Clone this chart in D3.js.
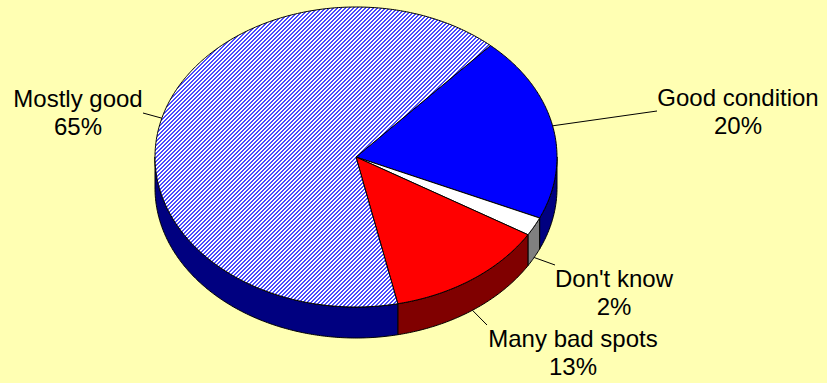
<!DOCTYPE html>
<html>
<head>
<meta charset="utf-8">
<script src="https://cdn.jsdelivr.net/npm/d3@7"></script>
<style>
  body { margin: 0; background: #FFFFB3; }
  svg { display: block; }
  text { font-family: "Liberation Sans", Arial, sans-serif; font-size: 24px; fill: #000; }
</style>
</head>
<body>
<svg id="chart" width="827" height="383"></svg>
<script>
// data
const categories = ["Good condition", "Don't know", "Many bad spots", "Mostly good"];
const values = [20, 2, 13, 65];
const pctLabels = ["20%", "2%", "13%", "65%"];

// look
const topColors = ["#0000FF", "#FFFFFF", "#FF0000", "url(#hatch)"];
const sideColors = ["#000080", "#808080", "#800000", "#000080"];
// label layout: leader end x,y and text centre x, first baseline y
const labelLayout = [
  [657, 111, 738, 106],
  [555, 265, 614, 287],
  [487, 325, 573, 347],
  [143, 113, 78, 107]
];

const cx = 356, cy = 157, rx = 201, ry = 150, depth = 31;
const startDeg = 42;

const svg = d3.select("#chart");
svg.append("rect").attr("width", 827).attr("height", 383).attr("fill", "#FFFFB3");

// hatch pattern, diagonal "/" stripes
const pat = svg.append("defs").append("pattern")
  .attr("id", "hatch").attr("patternUnits", "userSpaceOnUse")
  .attr("width", 4).attr("height", 4);
pat.append("rect").attr("width", 4).attr("height", 4).attr("fill", "#FFFFFF");
d3.range(16).forEach(k => {
  const i = k % 4, j = Math.floor(k / 4);
  if ((i + j) % 4 < 2) {
    pat.append("rect").attr("x", i).attr("y", j).attr("width", 1).attr("height", 1)
      .attr("fill", "#4A4AFF").attr("shape-rendering", "crispEdges");
  }
});

const pie = d3.pie().sort(null).value(d => d)
  .startAngle(startDeg * Math.PI / 180)
  .endAngle(startDeg * Math.PI / 180 + 2 * Math.PI);
const arcs = pie(values);

const px = a => cx + rx * Math.sin(a);
const py = a => cy - ry * Math.cos(a);

function arcPoints(a0, a1, dy) {
  const n = Math.max(2, Math.ceil((a1 - a0) / 0.01));
  return d3.range(n + 1).map(i => {
    const a = a0 + (a1 - a0) * i / n;
    return [px(a), py(a) + dy];
  });
}

const line = d3.line();

// sides (front half only, pi/2 .. 3pi/2)
const g = svg.append("g");
arcs.forEach((d, i) => {
  [[Math.PI / 2, 3 * Math.PI / 2], [Math.PI / 2 + 2 * Math.PI, 3 * Math.PI / 2 + 2 * Math.PI]].forEach(([f0, f1]) => {
    const s = Math.max(d.startAngle, f0), e = Math.min(d.endAngle, f1);
    if (e <= s) return;
    const pts = arcPoints(s, e, 0).concat(arcPoints(s, e, depth).reverse());
    g.append("path")
      .attr("d", line(pts) + "Z")
      .attr("fill", sideColors[i])
      .attr("stroke", "#000").attr("stroke-width", 1).attr("stroke-linejoin", "round");
  });
});

// top faces
arcs.forEach((d, i) => {
  const pts = [[cx, cy]].concat(arcPoints(d.startAngle, d.endAngle, 0));
  g.append("path")
    .attr("d", line(pts) + "Z")
    .attr("fill", topColors[i])
    .attr("stroke", "#000").attr("stroke-width", 1).attr("stroke-linejoin", "round");
});

// labels with leader lines
arcs.forEach((d, i) => {
  const m = (d.startAngle + d.endAngle) / 2;
  const front = Math.cos(m) < 0;
  const x0 = px(m), y0 = py(m) + (front ? depth : 0);
  const L = labelLayout[i];
  svg.append("line")
    .attr("x1", x0).attr("y1", y0).attr("x2", L[0]).attr("y2", L[1])
    .attr("stroke", "#000").attr("stroke-width", 1);
  const t = svg.append("text").attr("text-anchor", "middle");
  t.append("tspan").attr("x", L[2]).attr("y", L[3]).text(categories[i]);
  t.append("tspan").attr("x", L[2]).attr("y", L[3] + 28).text(pctLabels[i]);
});
</script>
</body>
</html>
